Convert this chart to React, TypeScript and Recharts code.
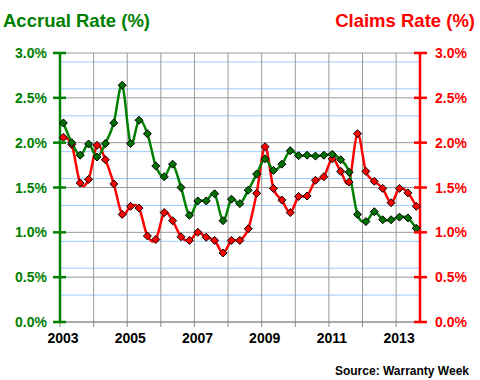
import { LineChart, Line, XAxis, YAxis, CartesianGrid } from "recharts";

const startYear = 2003;

// quarterly rates, 2003 Q1 .. 2013 Q3
const accrualRate = [
  2.22, 2.0, 1.86, 1.985, 1.84, 1.99, 2.22, 2.64, 1.99, 2.25, 2.1, 1.74, 1.62,
  1.76, 1.5, 1.19, 1.35, 1.35, 1.43, 1.13, 1.37, 1.32, 1.47, 1.65, 1.82, 1.69,
  1.76, 1.91, 1.855, 1.86, 1.85, 1.86, 1.87, 1.81, 1.67, 1.2, 1.12, 1.23, 1.14,
  1.14, 1.17, 1.16, 1.045,
];

const claimsRate = [
  2.06, 1.98, 1.55, 1.59, 1.97, 1.81, 1.54, 1.2, 1.29, 1.27, 0.96, 0.92, 1.22,
  1.13, 0.95, 0.91, 1.0, 0.945, 0.91, 0.77, 0.91, 0.91, 1.04, 1.435, 1.955,
  1.49, 1.36, 1.22, 1.4, 1.405, 1.58, 1.62, 1.82, 1.68, 1.56, 2.1, 1.68, 1.57,
  1.49, 1.33, 1.49, 1.44, 1.29,
];

const yearTicks = [2003, 2004, 2005, 2006, 2007, 2008, 2009, 2010, 2011, 2012, 2013];
const rateTicks = [0, 0.5, 1, 1.5, 2, 2.5, 3];
const minorTicks = [
  0.1, 0.2, 0.3, 0.4, 0.6, 0.7, 0.8, 0.9, 1.1, 1.2, 1.3, 1.4, 1.6, 1.7, 1.8,
  1.9, 2.1, 2.2, 2.3, 2.4, 2.6, 2.7, 2.8, 2.9,
];

const data = accrualRate.map((a, i) => ({
  date: startYear + 0.1 + i * 0.25,
  accrual: a,
  claims: claimsRate[i],
}));

const GREEN = "#008000";
const RED = "#ff0000";
const FONT = "'Liberation Sans', Arial, sans-serif";

// excel-style smoothed line (catmull-rom)
function smoothCurve(context: any) {
  let pts: number[][] = [];
  return {
    areaStart() {},
    areaEnd() {},
    lineStart() {
      pts = [];
    },
    point(x: number, y: number) {
      pts.push([+x, +y]);
    },
    lineEnd() {
      if (!pts.length) return;
      context.moveTo(pts[0][0], pts[0][1]);
      const t = 1 / 6;
      for (let i = 0; i < pts.length - 1; i++) {
        const p0 = pts[i - 1] || pts[i];
        const p1 = pts[i];
        const p2 = pts[i + 1];
        const p3 = pts[i + 2] || p2;
        context.bezierCurveTo(
          p1[0] + (p2[0] - p0[0]) * t,
          p1[1] + (p2[1] - p0[1]) * t,
          p2[0] - (p3[0] - p1[0]) * t,
          p2[1] - (p3[1] - p1[1]) * t,
          p2[0],
          p2[1]
        );
      }
    },
  };
}

const diamond = (fill: string) => (props: any) => {
  const { cx, cy, index } = props;
  const r = 4;
  return (
    <path
      key={index}
      d={`M${cx},${cy - r}L${cx + r},${cy}L${cx},${cy + r}L${cx - r},${cy}Z`}
      fill={fill}
      stroke="#000"
      strokeWidth={1}
    />
  );
};

const LeftTick = ({ x, y, payload }: any) => (
  <g>
    <line x1={x - 7} x2={x + 6} y1={y} y2={y} stroke={GREEN} strokeWidth={2.5} />
    <text x={x - 13} y={y + 5} textAnchor="end" fill={GREEN} fontSize={14} fontWeight="bold" fontFamily={FONT}>
      {payload.value.toFixed(1)}%
    </text>
  </g>
);

const RightTick = ({ x, y, payload }: any) => (
  <g>
    <line x1={x - 6} x2={x + 7} y1={y} y2={y} stroke={RED} strokeWidth={2.5} />
    <text x={x + 15} y={y + 5} textAnchor="start" fill={RED} fontSize={14} fontWeight="bold" fontFamily={FONT}>
      {payload.value.toFixed(1)}%
    </text>
  </g>
);

const YearTick = ({ x, y, payload }: any) =>
  payload.value % 2 === 1 ? (
    <text x={x + 3} y={y + 16} textAnchor="middle" fill="#000" fontSize={14} fontWeight="bold" fontFamily={FONT}>
      {payload.value}
    </text>
  ) : (
    <g />
  );

export default function App() {
  return (
    <div style={{ position: "absolute", left: 0, top: 0, width: 480, height: 380, background: "#fff" }}>
      <LineChart
        width={480}
        height={380}
        data={data}
        margin={{ top: 53, right: 0, bottom: 28, left: 0 }}
      >
        <CartesianGrid vertical={false} horizontalValues={minorTicks} stroke="#99ccff" />
        <CartesianGrid horizontalValues={rateTicks} verticalValues={yearTicks} stroke="#999999" />
        <XAxis
          dataKey="date"
          type="number"
          domain={[2003, 2013.71]}
          ticks={yearTicks}
          interval={0}
          height={30}
          stroke="#888"
          tickSize={5}
          tickMargin={0}
          tick={<YearTick />}
        />
        <YAxis
          domain={[0, 3]}
          ticks={rateTicks}
          width={60}
          axisLine={{ stroke: GREEN, strokeWidth: 2.5 }}
          tickLine={false}
          tickSize={0}
          tickMargin={0}
          tick={<LeftTick />}
        />
        <YAxis
          yAxisId="right"
          orientation="right"
          domain={[0, 3]}
          ticks={rateTicks}
          width={60}
          axisLine={{ stroke: RED, strokeWidth: 2.5 }}
          tickLine={false}
          tickSize={0}
          tickMargin={0}
          tick={<RightTick />}
        />
        <Line
          yAxisId="right"
          dataKey="claims"
          type={smoothCurve as any}
          stroke={RED}
          strokeWidth={2.5}
          dot={diamond(RED)}
          isAnimationActive={false}
        />
        <Line
          dataKey="accrual"
          type={smoothCurve as any}
          stroke={GREEN}
          strokeWidth={2.5}
          dot={diamond("#007000")}
          isAnimationActive={false}
        />
      </LineChart>
      <svg
        width={480}
        height={380}
        style={{ position: "absolute", left: 0, top: 0, pointerEvents: "none" }}
      >
        <text x={3} y={27} fill={GREEN} fontSize={18.5} fontWeight="bold" fontFamily={FONT}>
          Accrual Rate (%)
        </text>
        <text x={475} y={27} textAnchor="end" fill={RED} fontSize={18.5} fontWeight="bold" fontFamily={FONT}>
          Claims Rate (%)
        </text>
        <text x={469} y={375} textAnchor="end" fill="#000" fontSize={12} fontWeight="bold" fontFamily={FONT}>
          Source: Warranty Week
        </text>
      </svg>
    </div>
  );
}
